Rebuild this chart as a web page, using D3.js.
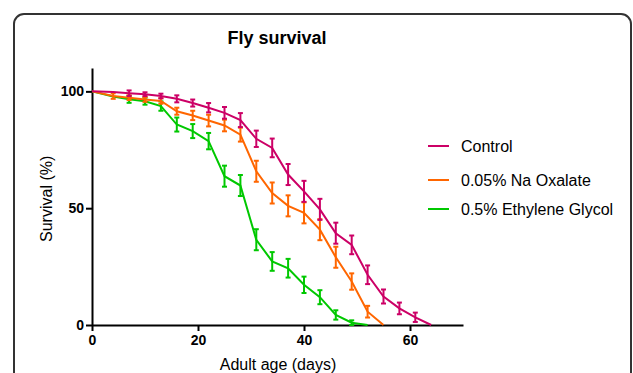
<!DOCTYPE html>
<html lang="en">
<head>
    <meta charset="UTF-8">
    <title>Fly survival</title>
    <script src="https://d3js.org/d3.v7.min.js"></script>
    <style>
        body { margin: 0; background: #fff; }
        svg { display: block; font-family: "Liberation Sans", Arial, sans-serif; }
        .axis path, .axis line { stroke: #000; stroke-width: 2px; }
        .axis text { font-size: 14px; font-weight: bold; fill: #000; }
        .axis-title { font-size: 16px; fill: #000; }
        .legend text { font-size: 16px; fill: #000; }
    </style>
</head>
<body>
    <svg width="633" height="373"></svg>

    <script>
        // days at which survival was scored
        const days = [0, 4, 7, 10, 13, 16, 19, 22, 25, 28, 31, 34, 37, 40, 43, 46, 49, 52, 55, 58, 61, 64];

        const seriesNames = ["Control", "0.05% Na Oxalate", "0.5% Ethylene Glycol"];
        const seriesColors = ["#cc0066", "#ff6600", "#00c800"];

        const controlValues = [100, 99.7, 99.2, 98.8, 98, 96.8, 95, 93, 90.8, 87.7, 79.7, 75.8, 64.4, 57.2, 49.5, 39.3, 34.3, 21.5, 12.2, 7.1, 3.3, 0];
        const controlErr    = [0, 0, 1.2, 0.8, 1, 1.5, 1.5, 2, 2.5, 3, 3.5, 4, 4.5, 4.5, 4.5, 4.5, 4, 4, 3, 2.5, 2, 0];

        const oxalateValues = [100, 98, 97.3, 96.5, 95.9, 91.5, 89.7, 87.5, 85.4, 81.5, 65.8, 56.5, 51, 48, 40.8, 29, 18.6, 5.7, 0];
        const oxalateErr    = [0, 1.2, 1, 1, 1.2, 1.5, 2, 2.5, 2.5, 3, 4.5, 4.5, 4.5, 4.5, 4.5, 4.5, 3.5, 2.5, 0];

        const glycolValues = [100, 97.8, 96.6, 95.8, 93.7, 85.8, 83, 78.7, 63.7, 59.7, 36.5, 27.2, 24.3, 17.2, 11.9, 4.3, 1, 0];
        const glycolErr    = [0, 0, 1.5, 1.5, 2, 3, 3, 3.5, 4.5, 4.5, 4.5, 4, 4, 3.5, 3, 2, 1, 0];

        const xTicks = [0, 20, 40, 60];
        const yTicks = [0, 50, 100];

        const svg = d3.select("svg");

        // frame round the whole graph
        svg.append("rect")
            .attr("x", 14).attr("y", 14)
            .attr("width", 617).attr("height", 400)
            .attr("rx", 10)
            .attr("fill", "none")
            .attr("stroke", "#333")
            .attr("stroke-width", 2);

        const x = d3.scaleLinear().domain([0, 70]).range([92, 463]);
        const y = d3.scaleLinear().domain([0, 110]).range([325, 68]);

        svg.append("g")
            .attr("class", "axis")
            .attr("transform", `translate(0,${y(0)})`)
            .call(d3.axisBottom(x).tickValues(xTicks).tickSize(6).tickSizeOuter(0).tickPadding(4));

        svg.append("g")
            .attr("class", "axis")
            .attr("transform", `translate(${x(0)},0)`)
            .call(d3.axisLeft(y).tickValues(yTicks).tickSize(6).tickSizeOuter(0).tickPadding(2));

        svg.append("text")
            .attr("x", 277).attr("y", 44)
            .attr("text-anchor", "middle")
            .style("font-size", "18px")
            .style("font-weight", "bold")
            .text("Fly survival");

        svg.append("text")
            .attr("class", "axis-title")
            .attr("x", 278).attr("y", 370)
            .attr("text-anchor", "middle")
            .text("Adult age (days)");

        svg.append("text")
            .attr("class", "axis-title")
            .attr("transform", `translate(52,${y(54)}) rotate(-90)`)
            .attr("text-anchor", "middle")
            .text("Survival (%)");

        const series = [
            { values: glycolValues, err: glycolErr, color: seriesColors[2] },
            { values: oxalateValues, err: oxalateErr, color: seriesColors[1] },
            { values: controlValues, err: controlErr, color: seriesColors[0] }
        ];

        const line = d3.line()
            .x(d => x(d.day))
            .y(d => y(d.v));

        series.forEach(s => {
            const pts = s.values.map((v, i) => ({ day: days[i], v: v, e: s.err[i] }));
            const g = svg.append("g");

            g.append("path")
                .datum(pts)
                .attr("d", line)
                .attr("fill", "none")
                .attr("stroke", s.color)
                .attr("stroke-width", 2);

            const bars = g.selectAll("g.err")
                .data(pts.filter(d => d.e > 0))
                .enter().append("g")
                .attr("stroke", s.color)
                .attr("stroke-width", 2);

            bars.append("line")
                .attr("x1", d => x(d.day)).attr("x2", d => x(d.day))
                .attr("y1", d => y(d.v - d.e)).attr("y2", d => y(d.v + d.e));
            bars.append("line")
                .attr("x1", d => x(d.day) - 2.5).attr("x2", d => x(d.day) + 2.5)
                .attr("y1", d => y(d.v - d.e)).attr("y2", d => y(d.v - d.e));
            bars.append("line")
                .attr("x1", d => x(d.day) - 2.5).attr("x2", d => x(d.day) + 2.5)
                .attr("y1", d => y(d.v + d.e)).attr("y2", d => y(d.v + d.e));
        });

        // legend
        const legendY = [146, 180, 209];
        const legend = svg.append("g").attr("class", "legend");
        seriesNames.forEach((name, i) => {
            legend.append("line")
                .attr("x1", 428).attr("x2", 449)
                .attr("y1", legendY[i]).attr("y2", legendY[i])
                .attr("stroke", seriesColors[i])
                .attr("stroke-width", 2);
            legend.append("text")
                .attr("x", 461).attr("y", legendY[i] + 5.5)
                .text(name);
        });
    </script>
</body>
</html>
